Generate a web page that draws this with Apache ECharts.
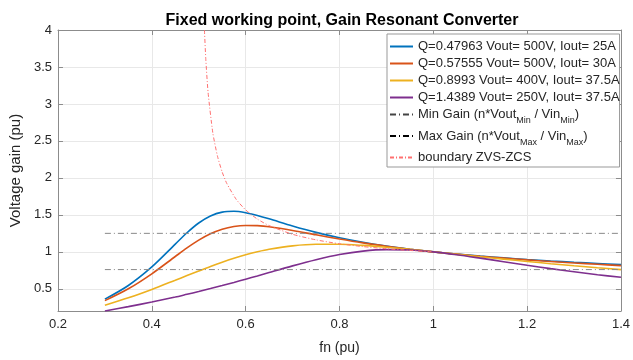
<!DOCTYPE html>
<html>
<head>
<meta charset="utf-8">
<script src="https://cdn.jsdelivr.net/npm/echarts@6/dist/echarts.min.js"></script>
<style>
  html, body { margin: 0; padding: 0; background: #fff; }
  #main { width: 633px; height: 360px; }
</style>
</head>
<body>
<div id="main"></div>
<script>
var myChart = echarts.init(document.getElementById('main'));

// normalised frequency points (pu)
var fnGrid = [0.3, 0.35, 0.4, 0.45, 0.475, 0.5, 0.525, 0.55, 0.575, 0.6, 0.625, 0.65, 0.7, 0.75,
	0.8, 0.85, 0.9, 0.95, 1, 1.05, 1.1, 1.15, 1.2, 1.25, 1.3, 1.35, 1.4];

var gainQ1 = [0.360, 0.545, 0.796, 1.104, 1.258, 1.390, 1.485, 1.537, 1.548, 1.529, 1.492, 1.447, 1.350, 1.263,
	1.190, 1.129, 1.078, 1.036, 1, 0.969, 0.942, 0.918, 0.896, 0.877, 0.859, 0.843, 0.827];
var gainQ2 = [0.340, 0.500, 0.703, 0.937, 1.053, 1.158, 1.244, 1.306, 1.343, 1.357, 1.354, 1.339, 1.289, 1.230,
	1.173, 1.121, 1.076, 1.035, 1, 0.969, 0.940, 0.915, 0.891, 0.870, 0.850, 0.832, 0.814];
var gainQ3 = [0.277, 0.378, 0.492, 0.616, 0.679, 0.741, 0.802, 0.859, 0.912, 0.960, 1.000, 1.034, 1.081, 1.102,
	1.102, 1.087, 1.063, 1.033, 1, 0.966, 0.933, 0.901, 0.870, 0.840, 0.812, 0.785, 0.760];
var gainQ4 = [0.201, 0.259, 0.321, 0.389, 0.426, 0.463, 0.503, 0.544, 0.586, 0.630, 0.674, 0.720, 0.810, 0.893,
	0.963, 1.010, 1.030, 1.025, 1, 0.961, 0.915, 0.867, 0.819, 0.773, 0.731, 0.691, 0.656];

// ZVS / ZCS boundary
var boundaryFn = [0.5122, 0.515, 0.52, 0.53, 0.54, 0.55, 0.56, 0.58, 0.6, 0.625, 0.65, 0.7, 0.75, 0.8, 0.85, 0.9, 0.95, 1.0];
var boundaryGain = [4.0, 3.615, 3.153, 2.611, 2.293, 2.079, 1.923, 1.709, 1.567, 1.443, 1.355, 1.237, 1.162, 1.109, 1.071, 1.042, 1.019, 1.0];

// horizontal gain limits
var limitFn = [0.3, 1.4];
var minGain = 0.76;
var maxGain = 1.25;

var seriesNames = [
	'Q=0.47963 Vout= 500V, Iout= 25A',
	'Q=0.57555 Vout= 500V, Iout= 30A',
	'Q=0.8993 Vout= 400V, Iout= 37.5A',
	'Q=1.4389 Vout= 250V, Iout= 37.5A',
	'Min Gain',
	'Max Gain',
	'boundary ZVS-ZCS'
];

var yTicks = [0.5, 1, 1.5, 2, 2.5, 3, 3.5, 4];

function pairs(xs, ys) {
	return xs.map(function (x, i) { return [x, ys[i]]; });
}

var txt = '#262626';
var axisGrey = '#8c8c8c';
var gridGrey = '#e8e8e8';

function curve(name, data, color) {
	return {
		name: name,
		type: 'line',
		data: data,
		symbol: 'none',
		smooth: 0.3,
		lineStyle: { color: color, width: 1.6 },
		itemStyle: { color: color }
	};
}

// legend entries; the two gain limits get darker icons than their plot lines
var legendData = seriesNames.map(function (n) {
	if (n === 'Min Gain') return { name: n, lineStyle: { color: '#444' } };
	if (n === 'Max Gain') return { name: n, lineStyle: { color: '#000' } };
	return { name: n };
});

var option = {
	backgroundColor: '#fff',
	animation: false,
	title: {
		text: 'Fixed working point, Gain Resonant Converter',
		left: 337,
		textAlign: 'center',
		top: 8,
		textStyle: { fontFamily: 'Liberation Sans', fontSize: 16, fontWeight: 'bold', color: '#000' }
	},
	legend: {
		data: legendData,
		orient: 'vertical',
		left: 387,
		top: 34,
		itemWidth: 23,
		itemHeight: 10,
		itemGap: 4,
		padding: [6, 0, 3, 2],
		backgroundColor: '#fff',
		borderColor: '#999',
		borderWidth: 1,
		borderRadius: 0,
		itemStyle: { opacity: 0 },
		formatter: function (name) {
			if (name === 'Min Gain') return 'Min Gain (n*Vout{sub|Min} / Vin{sub|Min})';
			if (name === 'Max Gain') return 'Max Gain (n*Vout{sub|Max} / Vin{sub|Max})';
			return name;
		},
		textStyle: {
			fontFamily: 'Liberation Sans',
			fontSize: 13,
			color: txt,
			rich: {
				sub: { fontFamily: 'Liberation Sans', fontSize: 9, color: txt, padding: [13, 0, 0, 0] }
			}
		}
	},
	grid: { left: 51, right: 10, top: 30, bottom: 47 },
	xAxis: [{
		type: 'value',
		min: 0.2,
		max: 1.4,
		interval: 0.2,
		name: 'fn (pu)',
		nameLocation: 'middle',
		nameGap: 30,
		nameTextStyle: { fontFamily: 'Liberation Sans', fontSize: 14, color: txt },
		axisLine: { lineStyle: { color: axisGrey } },
		axisTick: { inside: true, length: 5, lineStyle: { color: axisGrey } },
		axisLabel: { fontFamily: 'Liberation Sans', fontSize: 13, color: txt, margin: 7 },
		splitLine: { show: true, lineStyle: { color: gridGrey } }
	}, {
		type: 'value',
		position: 'top',
		min: 0.2,
		max: 1.4,
		interval: 0.2,
		axisLine: { lineStyle: { color: axisGrey } },
		axisTick: { inside: true, length: 5, lineStyle: { color: axisGrey } },
		axisLabel: { show: false },
		splitLine: { show: false }
	}],
	yAxis: [{
		type: 'value',
		min: 0.2,
		max: 4,
		name: 'Voltage gain (pu)',
		nameLocation: 'middle',
		nameGap: 30,
		nameTextStyle: { fontFamily: 'Liberation Sans', fontSize: 15, color: txt },
		axisLine: { show: true, lineStyle: { color: axisGrey } },
		axisTick: { show: true, inside: true, length: 5, customValues: yTicks, lineStyle: { color: axisGrey } },
		axisLabel: { fontFamily: 'Liberation Sans', fontSize: 13, color: txt, margin: 6, customValues: yTicks },
		splitLine: { show: true, lineStyle: { color: gridGrey } }
	}, {
		type: 'value',
		position: 'right',
		min: 0.2,
		max: 4,
		axisLine: { show: true, lineStyle: { color: axisGrey } },
		axisTick: { show: true, inside: true, length: 5, customValues: yTicks, lineStyle: { color: axisGrey } },
		axisLabel: { show: false, customValues: yTicks },
		splitLine: { show: false }
	}],
	series: [
		curve(seriesNames[0], pairs(fnGrid, gainQ1), '#0072BD'),
		curve(seriesNames[1], pairs(fnGrid, gainQ2), '#D95319'),
		curve(seriesNames[2], pairs(fnGrid, gainQ3), '#EDB120'),
		curve(seriesNames[3], pairs(fnGrid, gainQ4), '#7E2F8E'),
		{
			name: 'Min Gain',
			type: 'line',
			symbol: 'none',
			data: limitFn.map(function (x) { return [x, minGain]; }),
			lineStyle: { color: '#888', width: 1, type: [6, 3, 1, 3] },
			itemStyle: { color: '#555' }
		},
		{
			name: 'Max Gain',
			type: 'line',
			symbol: 'none',
			data: limitFn.map(function (x) { return [x, maxGain]; }),
			lineStyle: { color: '#888', width: 1, type: [6, 3, 1, 3] },
			itemStyle: { color: '#000' }
		},
		{
			name: 'boundary ZVS-ZCS',
			type: 'line',
			symbol: 'none',
			smooth: 0.2,
			data: pairs(boundaryFn, boundaryGain),
			lineStyle: { color: '#ff7070', width: 1, type: [4, 2, 1, 2] },
			itemStyle: { color: '#ff7070' }
		}
	]
};

myChart.setOption(option);
</script>
</body>
</html>
